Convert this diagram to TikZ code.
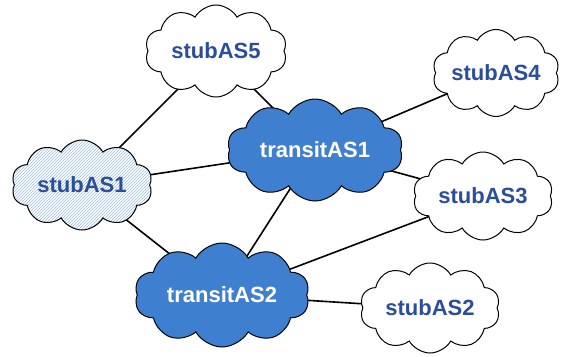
\documentclass[tikz,border=0pt]{standalone}
\usepackage{fontspec}
\setmainfont{Liberation Sans}
\usetikzlibrary{shapes.symbols,patterns,backgrounds}
\definecolor{asblue}{HTML}{3F7FCF}
\definecolor{labelblue}{HTML}{2A4D9C}
\definecolor{hatchblue}{HTML}{9DBDE0}
\tikzset{
  as/.style={cloud, cloud puffs=10, cloud puff arc=120, cloud ignores aspect,
    draw=black, line width=1pt, inner sep=0pt,
    font=\bfseries\fontsize{22}{22}\selectfont},
  stubas/.style={as, fill=white, text=labelblue},
  transitas/.style={as, fill=asblue, text=white},
  hatched/.style={as, text=labelblue, preaction={fill=white},
    pattern=north east lines, pattern color=hatchblue},
  link/.style={draw=black, line width=1.6pt},
}
\begin{document}
\begin{tikzpicture}[x=1pt,y=-1pt]
\useasboundingbox (0,0) rectangle (567,356);
\node[stubas, minimum width=142pt, minimum height=92pt] (s5) at (216,51) {stubAS5};
\node[transitas, minimum width=176pt, minimum height=102pt] (t1) at (315,150) {transitAS1};
\node[stubas, minimum width=127pt, minimum height=87pt] (s4) at (496,73) {stubAS4};
\node[stubas, minimum width=140pt, minimum height=88pt] (s3) at (483,196) {stubAS3};
\node[hatched, minimum width=141pt, minimum height=90pt] (s1) at (82,185) {stubAS1};
\node[transitas, minimum width=175pt, minimum height=104pt] (t2) at (222,295) {transitAS2};
\node[stubas, minimum width=140pt, minimum height=90pt] (s2) at (430,308) {stubAS2};
\begin{pgfonlayer}{background}
\draw[link] (s5.center) -- (s1.center);
\draw[link] (s5.center) -- (t1.center);
\draw[link] (s1.center) -- (t1.center);
\draw[link] (s1.center) -- (t2.center);
\draw[link] (t1.center) -- (s4.center);
\draw[link] (t1.center) -- (s3.center);
\draw[link] (t1.center) -- (t2.center);
\draw[link] (t2.center) -- (s3.center);
\draw[link] (t2.center) -- (s2.center);
\end{pgfonlayer}
\end{tikzpicture}
\end{document}
